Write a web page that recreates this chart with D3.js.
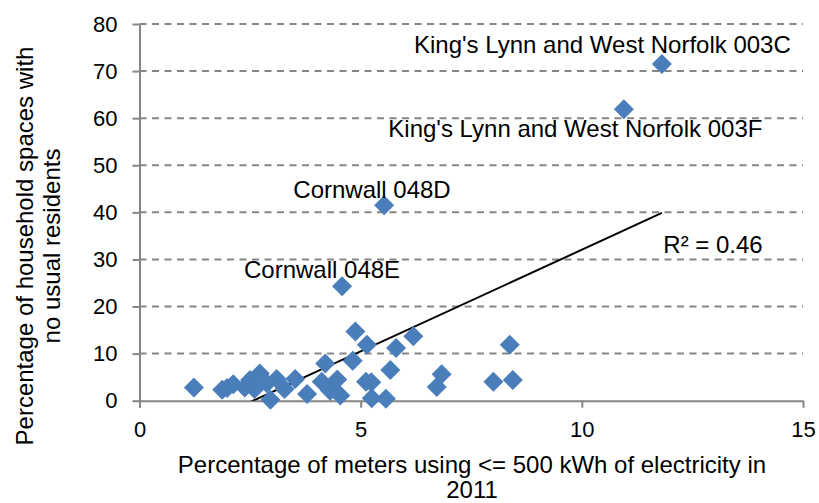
<!DOCTYPE html>
<html>
<head>
<meta charset="UTF-8">
<style>
  body { margin: 0; background: #fff; }
  svg { display: block; font-family: Arial, "Liberation Sans", sans-serif; }
  .tick text { fill: #000; }
</style>
</head>
<body>
<svg></svg>
<script src="https://d3js.org/d3.v7.min.js"></script>
<script>

// % of meters using <= 500 kWh (x) vs % household spaces with no usual residents (y)
let meterPct = [1.23, 1.87, 1.98, 2.12, 2.38, 2.50, 2.60, 2.72, 2.88, 2.96, 3.10, 3.28, 3.52, 3.79,
                4.12, 4.20, 4.31, 4.47, 4.54, 4.82, 4.88, 5.14, 5.12, 5.24, 5.25, 5.57, 5.67, 5.80,
                6.19, 6.72, 6.83, 8.00, 8.37, 8.44, 4.58, 5.53, 10.95, 11.81];
let emptyPct = [2.8, 2.3, 2.7, 3.5, 2.8, 4.4, 2.5, 5.8, 3.7, 0.2, 4.6, 2.5, 4.6, 1.4,
                4.0, 7.9, 2.1, 4.5, 1.1, 8.5, 14.7, 11.9, 4.0, 3.9, 0.5, 0.4, 6.5, 11.2,
                13.7, 2.9, 5.6, 4.0, 11.9, 4.4, 24.3, 41.5, 61.9, 71.5];

let xTicks = [0, 5, 10, 15];
let yTicks = [0, 10, 20, 30, 40, 50, 60, 70, 80];

// linear trendline
let trendSlope = 4.315, trendIntercept = -11.09;
let rSquared = "R² = 0.46";

let width = 819, height = 503;
let svg = d3.select("svg").attr("width", width).attr("height", height);

let x = d3.scaleLinear().domain([0, 15]).range([139.5, 803]);
let y = d3.scaleLinear().domain([0, 80]).range([400.7, 24]);

let axisColor = "#868686";

// dashed gridlines
svg.append("g")
  .selectAll("line")
  .data(yTicks.slice(1))
  .enter().append("line")
  .attr("x1", x(0)).attr("x2", x(15))
  .attr("y1", d => y(d)).attr("y2", d => y(d))
  .attr("stroke", axisColor)
  .attr("stroke-width", 2)
  .attr("stroke-dasharray", "7,5.5");

// axes
let xAxis = svg.append("g")
  .attr("transform", `translate(0,${y(0)})`)
  .call(d3.axisBottom(x).tickValues(xTicks).tickSize(7).tickPadding(14).tickSizeOuter(0));
let yAxis = svg.append("g")
  .attr("transform", `translate(${x(0)},0)`)
  .call(d3.axisLeft(y).tickValues(yTicks).tickSize(7).tickPadding(15).tickSizeOuter(0));

[xAxis, yAxis].forEach(a => {
  a.select(".domain").attr("stroke", axisColor).attr("stroke-width", 2);
  a.selectAll(".tick line").attr("stroke", axisColor).attr("stroke-width", 2);
  a.selectAll(".tick text").attr("font-size", 22).attr("font-family", "Arial, 'Liberation Sans', sans-serif");
});

// trendline, clipped to plot area
svg.append("clipPath").attr("id", "plot")
  .append("rect")
  .attr("x", x(0)).attr("y", y(80))
  .attr("width", x(15) - x(0)).attr("height", y(0) - y(80));

let xMin = d3.min(meterPct), xMax = d3.max(meterPct);
svg.append("line")
  .attr("clip-path", "url(#plot)")
  .attr("x1", x(xMin)).attr("y1", y(trendSlope * xMin + trendIntercept))
  .attr("x2", x(xMax)).attr("y2", y(trendSlope * xMax + trendIntercept))
  .attr("stroke", "#000")
  .attr("stroke-width", 2);

// points
svg.append("g")
  .selectAll("path")
  .data(meterPct.map((v, i) => [v, emptyPct[i]]))
  .enter().append("path")
  .attr("d", d3.symbol().type(d3.symbolSquare).size(200))
  .attr("transform", d => `translate(${x(d[0])},${y(d[1])}) rotate(45)`)
  .attr("fill", "#4a7ebb");

// annotations
let notes = svg.append("g").attr("font-size", 24).attr("fill", "#000");
notes.append("text").attr("x", 414).attr("y", 53.3).text("King's Lynn and West Norfolk 003C");
notes.append("text").attr("x", 388.3).attr("y", 136.7).text("King's Lynn and West Norfolk 003F");
notes.append("text").attr("x", 293.3).attr("y", 198.3).text("Cornwall 048D");
notes.append("text").attr("x", 244).attr("y", 278).text("Cornwall 048E");
notes.append("text").attr("x", 663.3).attr("y", 253.3).text(rSquared);

// axis titles
let xTitle = svg.append("text")
  .attr("text-anchor", "middle")
  .attr("font-size", 24);
xTitle.append("tspan").attr("x", 472).attr("y", 472.5)
  .text("Percentage of meters using <= 500 kWh of electricity in");
xTitle.append("tspan").attr("x", 472).attr("y", 497.5).text("2011");

let yTitle = svg.append("text")
  .attr("text-anchor", "middle")
  .attr("font-size", 24)
  .attr("transform", "translate(0,246) rotate(-90)");
yTitle.append("tspan").attr("x", 0).attr("y", 33).text("Percentage of household spaces with");
yTitle.append("tspan").attr("x", 0).attr("y", 60).text("no usual residents");

</script>
</body>
</html>
